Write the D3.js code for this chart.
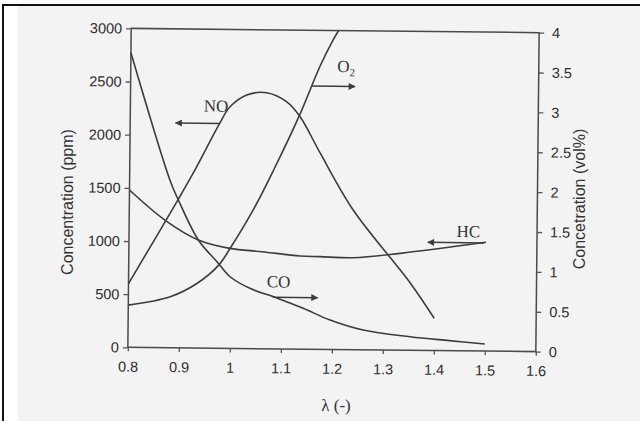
<!DOCTYPE html>
<html>
<head>
<meta charset="utf-8">
<script src="https://cdn.jsdelivr.net/npm/d3@7"></script>
<style>
  body { margin: 0; background: #fff; }
  svg { display: block; }
  .tick line { stroke: #555; stroke-width: 1.3; }
  .domain { display: none; }
</style>
</head>
<body>
<script>
// values
var xTicks = [0.8, 0.9, 1.0, 1.1, 1.2, 1.3, 1.4, 1.5, 1.6];
var xTickLabels = ["0.8", "0.9", "1", "1.1", "1.2", "1.3", "1.4", "1.5", "1.6"];
var ppmTicks = [0, 500, 1000, 1500, 2000, 2500, 3000];
var volTicks = [0, 0.5, 1, 1.5, 2, 2.5, 3, 3.5, 4];
var volTickLabels = ["0", "0.5", "1", "1.5", "2", "2.5", "3", "3.5", "4"];

// NO, ppm (left axis)
var noLambda = [0.80, 0.895, 0.928, 0.976, 0.995, 1.028, 1.067, 1.106, 1.133, 1.173, 1.239, 1.352, 1.40];
var noPpm    = [600, 1390, 1675, 2120, 2270, 2385, 2408, 2326, 2186, 1847, 1314, 636, 304];

// CO, ppm (left axis)
var coLambda = [0.80, 0.879, 0.896, 0.936, 0.973, 0.999, 1.038, 1.091, 1.143, 1.196, 1.261, 1.353, 1.43, 1.50];
var coPpm    = [2770, 1578, 1391, 1017, 814, 674, 567, 480, 385, 277, 186, 128, 95, 67];

// HC, ppm (left axis)
var hcLambda = [0.80, 0.870, 0.936, 0.998, 1.061, 1.136, 1.175, 1.240, 1.332, 1.50];
var hcPpm    = [1480, 1201, 1017, 941, 913, 876, 872, 865, 911, 1023];

// O2, vol% (right axis)
var o2Lambda = [0.80, 0.882, 0.934, 0.976, 0.998, 1.043, 1.082, 1.133, 1.171, 1.196, 1.207];
var o2Vol    = [0.53, 0.64, 0.81, 1.04, 1.25, 1.74, 2.24, 2.95, 3.55, 3.88, 4.0];

var width = 640, height = 421;
var plot = { left: 129.5, right: 537.5, top: 30.5, bottom: 349.5 };
var ink = "#3c3c3c";

var svg = d3.select("body").append("svg")
  .attr("width", width)
  .attr("height", height);

// scanned page
svg.append("rect").attr("width", width).attr("height", height).attr("fill", "#fff");
svg.append("rect").attr("x", 18).attr("y", 6).attr("width", width - 18).attr("height", height - 6)
  .attr("fill", "#f3f3f3");
svg.append("path")
  .attr("d", "M3," + height + "V5H" + width)
  .attr("fill", "none").attr("stroke", "#111").attr("stroke-width", 2);

svg.append("defs").append("marker")
  .attr("id", "head")
  .attr("viewBox", "0 0 10 10")
  .attr("refX", 9).attr("refY", 5)
  .attr("markerWidth", 9).attr("markerHeight", 7)
  .attr("markerUnits", "userSpaceOnUse")
  .attr("orient", "auto")
  .append("path")
  .attr("d", "M0,0L10,5L0,10Z")
  .attr("fill", ink);

// the scan is slightly tilted
var g = svg.append("g").attr("transform", "rotate(0.6, 333, 190)");

var x = d3.scaleLinear().domain([0.8, 1.6]).range([plot.left, plot.right]);
var yPpm = d3.scaleLinear().domain([0, 3000]).range([plot.bottom, plot.top]);
var yVol = d3.scaleLinear().domain([0, 4]).range([plot.bottom, plot.top]);

g.append("rect")
  .attr("x", plot.left).attr("y", plot.top)
  .attr("width", plot.right - plot.left).attr("height", plot.bottom - plot.top)
  .attr("fill", "none").attr("stroke", "#4a4a4a").attr("stroke-width", 1.5);

function styleTicks(sel) {
  sel.selectAll(".tick text")
    .attr("font-family", "'Liberation Sans', Arial, sans-serif")
    .attr("font-size", 14.5)
    .attr("fill", "#2e2e2e");
}

g.append("g")
  .attr("transform", "translate(0," + plot.bottom + ")")
  .call(d3.axisBottom(x).tickValues(xTicks).tickSize(4).tickPadding(10)
    .tickFormat((d, i) => xTickLabels[i]))
  .call(styleTicks);

g.append("g")
  .attr("transform", "translate(" + plot.left + ",0)")
  .call(d3.axisLeft(yPpm).tickValues(ppmTicks).tickSize(5).tickPadding(4)
    .tickFormat(d => d))
  .call(styleTicks);

g.append("g")
  .attr("transform", "translate(" + plot.right + ",0)")
  .call(d3.axisRight(yVol).tickValues(volTicks).tickSize(5).tickPadding(8)
    .tickFormat((d, i) => volTickLabels[i]))
  .call(styleTicks);

var line = d3.line().curve(d3.curveCatmullRom.alpha(0.5));

function drawCurve(lams, vals, yScale) {
  g.append("path")
    .datum(lams.map((l, i) => [x(l), yScale(vals[i])]))
    .attr("d", line)
    .attr("fill", "none")
    .attr("stroke", ink)
    .attr("stroke-width", 1.6);
}

drawCurve(noLambda, noPpm, yPpm);
drawCurve(coLambda, coPpm, yPpm);
drawCurve(hcLambda, hcPpm, yPpm);
drawCurve(o2Lambda, o2Vol, yVol);

function arrow(l0, l1, yv, yScale) {
  g.append("line")
    .attr("x1", x(l0)).attr("x2", x(l1))
    .attr("y1", yScale(yv)).attr("y2", yScale(yv))
    .attr("stroke", ink).attr("stroke-width", 1.5)
    .attr("marker-end", "url(#head)");
}

function label(txt, l, yv, yScale, anchor) {
  return g.append("text")
    .attr("x", x(l)).attr("y", yScale(yv))
    .attr("text-anchor", anchor || "start")
    .style("font-family", "'Liberation Serif', 'Times New Roman', serif")
    .style("font-size", "17px")
    .attr("fill", "#333")
    .text(txt);
}

label("NO", 0.968, 2225, yPpm, "middle");
arrow(0.976, 0.889, 2115, yPpm);

var o2 = label("O", 1.205, 3.48, yVol);
o2.append("tspan").attr("dy", 4).style("font-size", "11px").text("2");
arrow(1.155, 1.240, 3.30, yVol);

label("HC", 1.442, 1070, yPpm);
arrow(1.496, 1.386, 1017, yPpm);

label("CO", 1.071, 578, yPpm);
arrow(1.083, 1.171, 486, yPpm);

svg.append("text")
  .attr("transform", "translate(73,202) rotate(-90)")
  .attr("text-anchor", "middle")
  .style("font-family", "'Liberation Sans', Arial, sans-serif")
  .style("font-size", "16px")
  .attr("fill", "#333")
  .text("Concentration (ppm)");

svg.append("text")
  .attr("transform", "translate(585,199) rotate(-90)")
  .attr("text-anchor", "middle")
  .style("font-family", "'Liberation Sans', Arial, sans-serif")
  .style("font-size", "16px")
  .attr("fill", "#333")
  .text("Concetration (vol%)");

svg.append("text")
  .attr("x", 336).attr("y", 411)
  .attr("text-anchor", "middle")
  .style("font-family", "'Liberation Serif', 'Times New Roman', serif")
  .style("font-size", "17px")
  .attr("fill", "#333")
  .text("λ (-)");
</script>
</body>
</html>
